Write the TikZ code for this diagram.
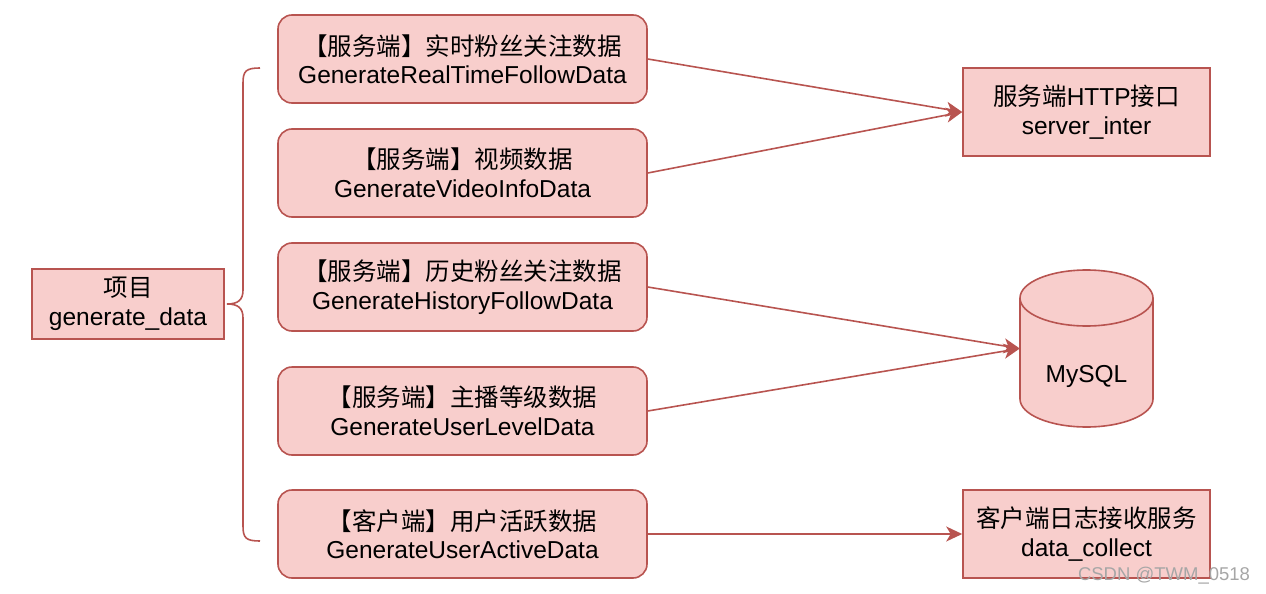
\documentclass[tikz,border=0pt]{standalone}
\usepackage{fontspec}
\setmainfont{Liberation Sans}
\newfontfamily\cjk{Noto Sans CJK SC}
\usetikzlibrary{arrows.meta}
\definecolor{boxfill}{HTML}{F8CECC}
\definecolor{boxline}{HTML}{B85450}

\begin{document}
\begin{tikzpicture}[x=1pt, y=-1pt, >={Stealth[length=16pt, width=15pt, inset=4.5pt]},
  font=\fontsize{24.5}{28.5}\selectfont,
  task/.style={draw=boxline, fill=boxfill, line width=1.6pt, rounded corners=14pt,
    minimum width=369pt, minimum height=88pt, align=center},
  sink/.style={draw=boxline, fill=boxfill, line width=1.6pt,
    minimum width=247pt, minimum height=88pt, align=center},
  link/.style={draw=boxline, line width=1.6pt}]
  \useasboundingbox (0,0) rectangle (1266,594);

  \node[sink, minimum width=192pt, minimum height=70pt] (proj) at (128,304)
    {{\cjk 项目}\\generate\_data};

  \node[task] (rt) at (462.5,59) {{\cjk 【服务端】实时粉丝关注数据}\\GenerateRealTimeFollowData};
  \node[task] (video) at (462.5,173) {{\cjk 【服务端】视频数据}\\GenerateVideoInfoData};
  \node[task] (hist) at (462.5,287) {{\cjk 【服务端】历史粉丝关注数据}\\GenerateHistoryFollowData};
  \node[task] (level) at (462.5,411) {{\cjk 【服务端】主播等级数据}\\GenerateUserLevelData};
  \node[task] (active) at (462.5,534) {{\cjk 【客户端】用户活跃数据}\\GenerateUserActiveData};

  \node[sink] (http) at (1086.5,112) {{\cjk 服务端}HTTP{\cjk 接口}\\server\_inter};
  \node[sink] (collect) at (1086.5,534) {{\cjk 客户端日志接收服务}\\data\_collect};

  % database
  \node[minimum width=133pt, minimum height=157pt, inner sep=0pt] (db) at (1086.5,348.5) {};
  \draw[link, fill=boxfill] (1020,298) -- (1020,399) arc (180:0:66.5 and 28)
    -- (1153,298) arc (0:-180:66.5 and 28) -- cycle;
  \draw[link] (1020,298) arc (180:0:66.5 and 28);
  \node (dbname) at (1086.5,376) {MySQL};

  % brace
  \coordinate (top) at (260,68);
  \coordinate (tip) at (227,304);
  \coordinate (bot) at (260,541);
  \draw[link] (top) .. controls (246,68) and (243,71) .. (243,83) -- (243,290)
    .. controls (243,300) and (238,304) .. (tip)
    .. controls (238,304) and (243,308) .. (243,318) -- (243,526)
    .. controls (243,538) and (246,541) .. (bot);

  \draw[link, ->] (rt.east) -- (http.west);
  \draw[link, ->] (video.east) -- (http.west);
  \draw[link, ->] (hist.east) -- (db.west);
  \draw[link, ->] (level.east) -- (db.west);
  \draw[link, ->] (active.east) -- (collect.west);

  \node[text=gray!70, font=\fontsize{18.5}{20}\selectfont] (mark) at (1164,576) {CSDN @TWM\_0518};
\end{tikzpicture}
\end{document}
